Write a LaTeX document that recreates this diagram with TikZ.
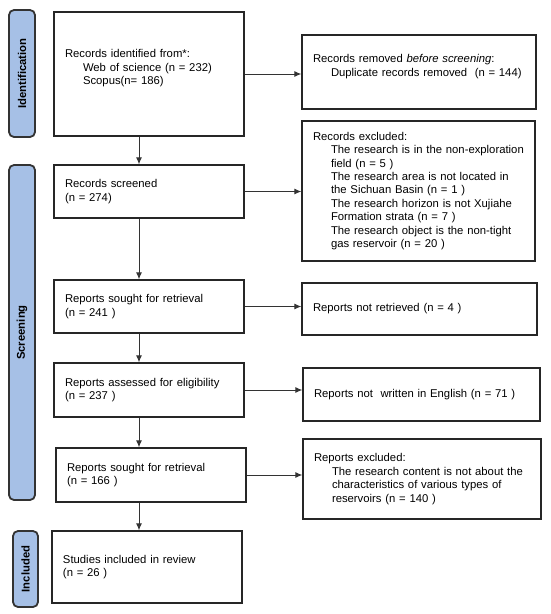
\documentclass[tikz,border=0pt]{standalone}
\usepackage{fontspec}
\setmainfont{Liberation Sans}
\usepackage{graphicx}
\usepackage{xcolor}
\usepackage{tikz}
\usetikzlibrary{arrows.meta}
\definecolor{PhaseBlue}{RGB}{166, 192, 230}

\newcommand{\ind}{\hspace*{18pt}}

\begin{document}
\begin{tikzpicture}[x=1pt, y=-1pt,
    stage/.style={draw=black!85, line width=1.4pt, align=left, inner xsep=11pt, inner ysep=0pt,
        font=\fontsize{11.3}{13.4}\selectfont},
    phase/.style={draw=black!80, line width=1.8pt, rounded corners=5pt, fill=PhaseBlue, inner sep=0pt,
        font=\bfseries\fontsize{11.3}{13}\selectfont},
    flow/.style={-{Latex[length=7pt,width=6pt]}, line width=0.9pt, draw=black!80}]
        % Page outline
        \useasboundingbox (0,0) rectangle (550,614);
        \fill[white] (0,0) rectangle (550,614);

        % Phase bars
        \node[phase, minimum width=26pt, minimum height=127pt] (idbar) at (22,73.5) {\rotatebox{90}{Identification}};
        \node[phase, minimum width=26pt, minimum height=335pt] (scbar) at (22,332.5) {\rotatebox{90}{Screening}};
        \node[phase, minimum width=25pt, minimum height=76pt] (inbar) at (25.5,569) {\rotatebox{90}{Included}};

        % Main column
        \node[stage, minimum width=190pt, text width=168pt, minimum height=124pt] (ident) at (149,74)
            {Records identified from*:\\ \ind Web of science (n = 232)\\ \ind Scopus(n= 186)\\ ~};
        \node[stage, minimum width=190pt, text width=168pt, minimum height=53pt] (screened) at (149,191.5)
            {Records screened\\ (n = 274)};
        \node[stage, minimum width=190pt, text width=168pt, minimum height=53pt] (sought) at (149,306.5)
            {Reports sought for retrieval\\ (n = 241 )};
        \node[stage, minimum width=190pt, text width=168pt, minimum height=54pt] (assessed) at (149,390)
            {Reports assessed for eligibility\\ (n = 237 )};
        \node[stage, minimum width=190pt, text width=168pt, minimum height=54pt] (soughtb) at (151,475)
            {Reports sought for retrieval\\ (n = 166 )};
        \node[stage, minimum width=190pt, text width=168pt, minimum height=72pt] (included) at (147,567)
            {Studies included in review\\ (n = 26 )};

        % Side column
        \node[stage, minimum width=234pt, text width=212pt, minimum height=74pt] (removed) at (419,72)
            {Records removed \textit{before screening}:\\ \ind Duplicate records removed\ \ (n = 144)\\ ~};
        \node[stage, minimum width=233pt, text width=211pt, minimum height=140pt] (excluded) at (418.5,191)
            {Records excluded:\\
             \ind The research is in the non-exploration\\
             \ind field (n = 5 )\\
             \ind The research area is not located in\\
             \ind the Sichuan Basin (n = 1 )\\
             \ind The research horizon is not Xujiahe\\
             \ind Formation strata (n = 7 )\\
             \ind The research object is the non-tight\\
             \ind gas reservoir (n = 20 )};
        \node[stage, minimum width=235pt, text width=213pt, minimum height=52pt] (notret) at (419.5,309)
            {Reports not retrieved (n = 4 )};
        \node[stage, minimum width=237pt, text width=215pt, minimum height=53pt] (noteng) at (421.5,394.5)
            {Reports not\ \ written in English (n = 71 )};
        \node[stage, minimum width=238pt, text width=216pt, minimum height=80pt] (excludedb) at (422,479)
            {Reports excluded:\\
             \ind The research content is not about the\\
             \ind characteristics of various types of\\
             \ind reservoirs (n = 140 )};

        % Arrows down
        \coordinate (axis) at (139,0);
        \draw[flow] (ident.south -| axis) -- (screened.north -| axis);
        \draw[flow] (screened.south -| axis) -- (sought.north -| axis);
        \draw[flow] (sought.south -| axis) -- (assessed.north -| axis);
        \draw[flow] (assessed.south -| axis) -- (soughtb.north -| axis);
        \draw[flow] (soughtb.south -| axis) -- (included.north -| axis);

        % Arrows across
        \draw[flow] (ident.east) -- (ident.east -| removed.west);
        \draw[flow] (screened.east) -- (screened.east -| excluded.west);
        \draw[flow] (sought.east) -- (sought.east -| notret.west);
        \draw[flow] (assessed.east) -- (assessed.east -| noteng.west);
        \draw[flow] (soughtb.east) -- (soughtb.east -| excludedb.west);
    \end{tikzpicture}
\end{document}
